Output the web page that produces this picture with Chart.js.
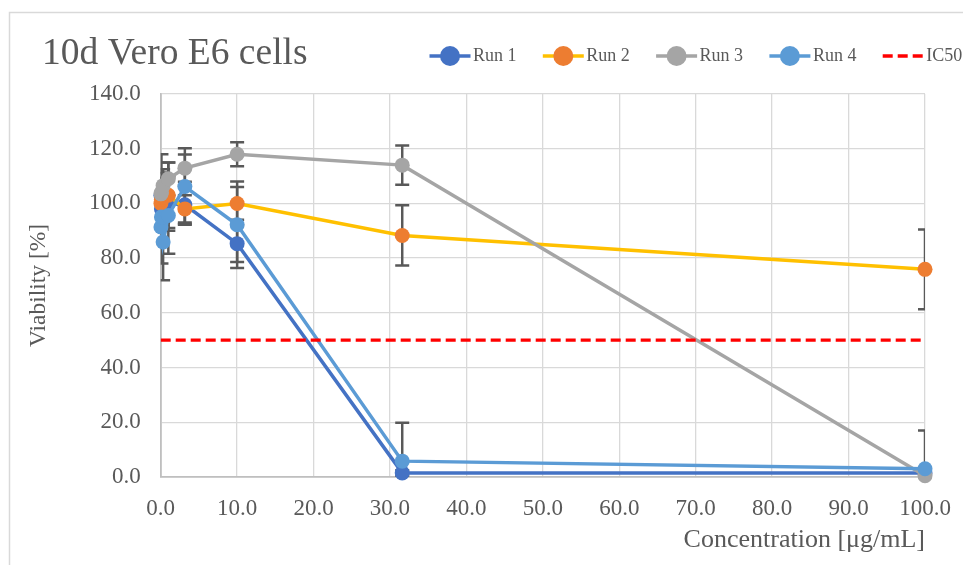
<!DOCTYPE html>
<html lang="en">
<head>
    <meta charset="UTF-8">
    <title>10d Vero E6 cells</title>
    <script src="https://cdn.jsdelivr.net/npm/chart.js"></script>
    <style>
        body { margin: 0; background: #fff; }
    </style>
</head>
<body>
    <canvas id="myChart" width="963" height="565"></canvas>
    <script>
        // concentrations in µg/mL
        var conc = [0.0316, 0.1, 0.316, 1, 3.16, 10, 31.6, 100];

        var run1 = [103, 98, 101, 100, 99.5, 85.3, 1.5, 1.5];
        var run2 = [100, 101.5, 102.3, 103, 98, 100, 88.3, 75.9];
        var run3 = [103.5, 104, 106.5, 109, 112.9, 118, 114, 0.5];
        var run4 = [91.4, 95, 85.9, 95.6, 106.2, 92.2, 5.8, 3.0];

        // +/- error values
        var err1 = [8, 20, 8, 10, 7, 6.7, 1, 1];
        var err2 = [6, 8, 9, 12, 5, 6, 11, 14.6];
        var err3 = [4, 5, 6, 6, 5, 4.4, 7.2, 2];
        var err4 = [6, 10, 14, 14, 14, 15.8, 14, 14];

        var ic50X = [0, 100];
        var ic50Y = [50, 50];

        var serif = "'Liberation Serif', 'Times New Roman', serif";
        var textColor = '#595959';

        function pts(xs, ys) {
            return xs.map(function(x, i) { return { x: x, y: ys[i] }; });
        }

        var errors = [err1, err2, err3, err4];

        var bgPlugin = {
            id: 'bg',
            beforeDraw: function(chart) {
                var ctx = chart.ctx;
                ctx.save();
                ctx.fillStyle = '#fff';
                ctx.fillRect(0, 0, chart.width, chart.height);
                ctx.strokeStyle = '#D9D9D9';
                ctx.lineWidth = 1.5;
                ctx.strokeRect(9.5, 12.5, 980, 580);
                ctx.fillStyle = textColor;
                ctx.font = '37.5px ' + serif;
                ctx.textBaseline = 'alphabetic';
                ctx.fillText('10d Vero E6 cells', 42, 64);
                ctx.restore();
            }
        };

        var errorBarPlugin = {
            id: 'errorBars',
            beforeDatasetsDraw: function(chart) {
                var ctx = chart.ctx, xs = chart.scales.x, ys = chart.scales.y, area = chart.chartArea;
                ctx.save();
                ctx.beginPath();
                ctx.rect(area.left, area.top, area.right - area.left, area.bottom - area.top);
                ctx.clip();
                ctx.strokeStyle = '#595959';
                ctx.lineWidth = 2.5;
                errors.forEach(function(err, d) {
                    var data = chart.data.datasets[d].data;
                    data.forEach(function(p, i) {
                        var px = xs.getPixelForValue(p.x);
                        var top = ys.getPixelForValue(p.y + err[i]);
                        var bot = ys.getPixelForValue(p.y - err[i]);
                        ctx.beginPath();
                        ctx.moveTo(px, top); ctx.lineTo(px, bot);
                        ctx.moveTo(px - 7, top); ctx.lineTo(px + 7, top);
                        ctx.moveTo(px - 7, bot); ctx.lineTo(px + 7, bot);
                        ctx.stroke();
                    });
                });
                ctx.restore();
            }
        };

        var legendPlugin = {
            id: 'sideLegend',
            afterDraw: function(chart) {
                var ctx = chart.ctx;
                ctx.save();
                chart.data.datasets.forEach(function(ds, i) {
                    var x0 = 429.5 + i * 113.3, y0 = 56;
                    ctx.strokeStyle = ds.borderColor;
                    ctx.lineWidth = 3.3;
                    ctx.setLineDash(ds.borderDash || []);
                    ctx.beginPath();
                    ctx.moveTo(x0, y0);
                    ctx.lineTo(x0 + 41, y0);
                    ctx.stroke();
                    ctx.setLineDash([]);
                    if (ds.pointRadius > 0) {
                        ctx.fillStyle = ds.pointBackgroundColor;
                        ctx.beginPath();
                        ctx.arc(x0 + 20.5, y0, 10, 0, Math.PI * 2);
                        ctx.fill();
                    }
                    ctx.fillStyle = textColor;
                    ctx.font = '18px ' + serif;
                    ctx.textBaseline = 'middle';
                    ctx.fillText(ds.label, x0 + 43.5, y0);
                });
                ctx.restore();
            }
        };

        function run(label, data, line, marker, order) {
            return {
                label: label,
                data: data,
                showLine: true,
                borderColor: line,
                backgroundColor: marker,
                pointBackgroundColor: marker,
                pointBorderColor: marker,
                pointBorderWidth: 0,
                pointRadius: 7.5,
                borderWidth: 3.5,
                clip: false,
                order: order
            };
        }

        var ctx = document.getElementById('myChart').getContext('2d');
        var myChart = new Chart(ctx, {
            type: 'scatter',
            data: {
                datasets: [
                    run('Run 1', pts(conc, run1), '#4472C4', '#4472C4', 4),
                    run('Run 2', pts(conc, run2), '#FFC000', '#ED7D31', 3),
                    run('Run 3', pts(conc, run3), '#A5A5A5', '#A5A5A5', 2),
                    run('Run 4', pts(conc, run4), '#5B9BD5', '#5B9BD5', 1),
                    {
                        label: 'IC50',
                        data: pts(ic50X, ic50Y),
                        showLine: true,
                        borderColor: '#FF0000',
                        backgroundColor: '#FF0000',
                        borderWidth: 3.3,
                        borderDash: [10, 5],
                        pointRadius: 0,
                        order: 0
                    }
                ]
            },
            options: {
                responsive: false,
                animation: false,
                layout: { padding: { top: 94, right: 0, left: 0, bottom: 0 } },
                plugins: {
                    legend: { display: false },
                    tooltip: { enabled: false }
                },
                scales: {
                    x: {
                        type: 'linear',
                        min: 0,
                        max: 100,
                        afterFit: function(scale) {
                            scale.height = 88;
                            scale.paddingRight = 38;
                        },
                        ticks: {
                            stepSize: 10,
                            padding: 18,
                            color: textColor,
                            font: { family: serif, size: 23 },
                            callback: function(v) { return v.toFixed(1); }
                        },
                        grid: { color: '#D9D9D9', lineWidth: 1.3, drawTicks: false },
                        border: { color: '#BFBFBF', width: 1.8 },
                        title: {
                            display: true,
                            text: 'Concentration [μg/mL]',
                            align: 'end',
                            color: textColor,
                            font: { family: serif, size: 26 },
                            padding: { top: 0, bottom: 9 }
                        }
                    },
                    y: {
                        min: 0,
                        max: 140,
                        afterFit: function(scale) { scale.width = 160.7; },
                        ticks: {
                            stepSize: 20,
                            padding: 20,
                            color: textColor,
                            font: { family: serif, size: 23 },
                            callback: function(v) { return v.toFixed(1); }
                        },
                        grid: { color: '#D9D9D9', lineWidth: 1.3, drawTicks: false },
                        border: { color: '#BFBFBF', width: 1.8 },
                        title: {
                            display: true,
                            text: 'Viability [%]',
                            color: textColor,
                            font: { family: serif, size: 23.5 },
                            padding: { top: 25, bottom: 0 }
                        }
                    }
                }
            },
            plugins: [bgPlugin, errorBarPlugin, legendPlugin]
        });
    </script>
</body>
</html>
